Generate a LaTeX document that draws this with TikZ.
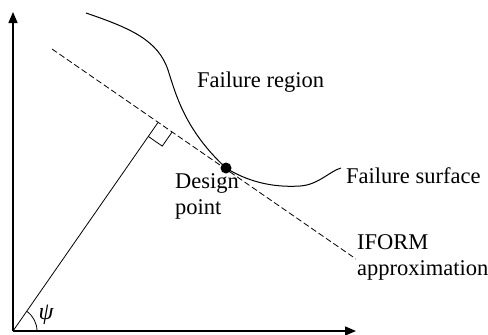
\documentclass[tikz,border=0pt]{standalone}
\usepackage{fontspec}
\setmainfont{Liberation Serif}
\usetikzlibrary{arrows.meta,calc}
\begin{document}
\begin{tikzpicture}[x=1pt,y=-1pt,
  lbl/.style={font=\fontsize{22.5}{26.5}\selectfont, inner sep=0pt, align=left},
  axis/.style={line width=1.5pt, -{Triangle[length=11pt,width=9pt]}},
  curve/.style={line width=1pt},
  approx/.style={line width=0.8pt, dash pattern=on 6pt off 3pt}]
\useasboundingbox (0,0) rectangle (488,335);
\coordinate (O) at (13,331);
\coordinate (ytip) at (13,12);
\coordinate (xtip) at (356,331);
\coordinate (dA) at (52,49);
\coordinate (dB) at (356,259);
\coordinate (foot) at (158,122.5);
\coordinate (cS) at (86,13);
\coordinate (cE) at (341,168);
\draw[axis] (O) -- (ytip);
\draw[axis] (O) -- (xtip);
\draw[approx] (dA) -- (dB);
\draw[line width=0.8pt] (O) -- (foot);
% right angle marker
\draw[line width=0.8pt] ($(foot)!17pt!(O)$) -- ($(foot)!17pt!(O) + (foot)!17pt!(dB) - (foot)$) -- ($(foot)!17pt!(dB)$);
% angle psi
\draw[line width=0.8pt] ($(O)+(24,0)$) arc[start angle=0, end angle=55.1, radius=24pt];
\node[lbl, font=\fontsize{24}{28}\selectfont\itshape] (psi) at (46,315) {ψ};
% failure surface
\coordinate (dp) at (226,168);
\draw[curve] (cS) .. controls (130,28) and (158,40) .. (168,70)
  .. controls (176,95) and (185,130) .. (dp)
  .. controls (245,180) and (270,188) .. (300,186)
  .. controls (318,185) and (330,171) .. (cE);
\fill (dp) circle[radius=5.5pt];
\node[lbl, anchor=west] (fr) at (197,82) {Failure region};
\node[lbl, anchor=west] (fs) at (346,176) {Failure surface};
\node[lbl, anchor=north west] (des) at (175,173) {Design\\point};
\node[lbl, anchor=north west] (ifo) at (357,234) {IFORM\\approximation};
\end{tikzpicture}
\end{document}
